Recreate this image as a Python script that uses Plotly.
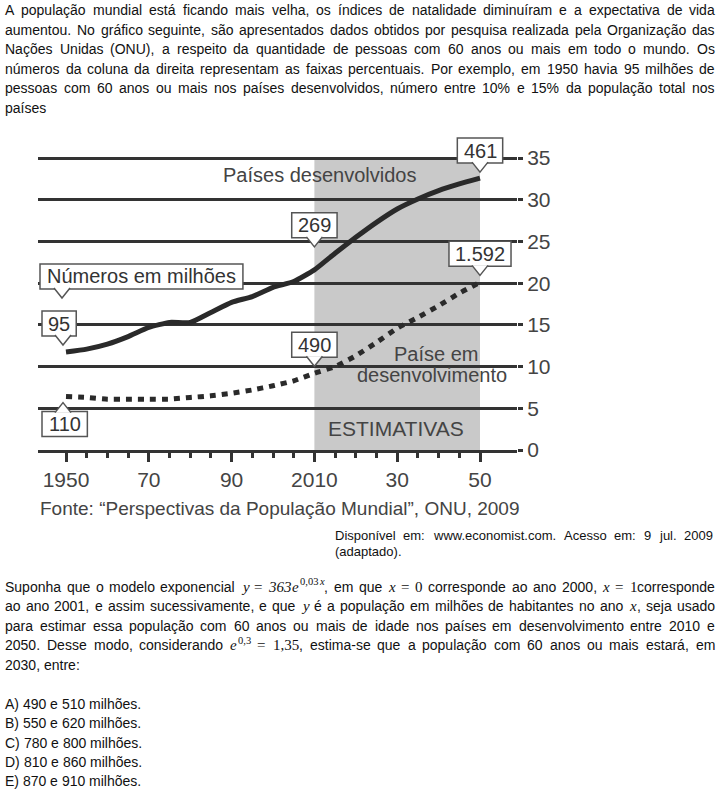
import unicodedata
import plotly.graph_objects as go

W, H = 720, 792

# ---------------- data ----------------
years = [1950, 1955, 1960, 1965, 1970, 1975, 1980, 1985, 1990, 1995, 2000,
         2005, 2010, 2015, 2020, 2025, 2030, 2035, 2040, 2045, 2050]
developed_pct = [11.75, 12.1, 12.7, 13.6, 14.7, 15.3, 15.3, 16.5, 17.7, 18.4, 19.5,
                 20.2, 21.6, 23.6, 25.5, 27.3, 28.9, 30.1, 31.1, 31.9, 32.6]
developing_pct = [6.4, 6.3, 6.1, 6.1, 6.1, 6.1, 6.3, 6.5, 6.8, 7.2, 7.7,
                  8.3, 9.2, 10.0, 11.3, 12.9, 14.6, 15.9, 17.3, 18.8, 20.1]
y_ticks = [0, 5, 10, 15, 20, 25, 30, 35]
x_tickvals = [1950, 1970, 1990, 2010, 2030, 2050]
x_ticktext = ["1950", "70", "90", "2010", "30", "50"]
estimate_start, estimate_end = 2010, 2050

callout_labels = ["95", "269", "461", "110", "490", "1.592"]
callout_years = [1950, 2010, 2050, 1950, 2010, 2050]
callout_series = ["dev", "dev", "dev", "und", "und", "und"]

# ---------------- geometry (pixels) ----------------
PX_1950, PX_PER_YEAR = 66.0, 4.14
PY_ZERO, PY_PER_UNIT = 450.0, 8.34
PLOT_LEFT, PLOT_RIGHT, PLOT_TOP = 38.0, 517.0, 150.0

x_range = [1950 - (PX_1950 - PLOT_LEFT) / PX_PER_YEAR, 1950 + (PLOT_RIGHT - PX_1950) / PX_PER_YEAR]
y_range = [0, (PY_ZERO - PLOT_TOP) / PY_PER_UNIT]


def px(year):
    return PX_1950 + (year - 1950) * PX_PER_YEAR


def py(v):
    return PY_ZERO - v * PY_PER_UNIT


def fx(p):
    return p / W


def fy(p):
    return 1 - p / H


# ---------------- font metrics ----------------
HELV = {' ': 278, '!': 278, '"': 355, '%': 889, '(': 333, ')': 333, ',': 278, '-': 333,
        '.': 278, '/': 278, ':': 278, ';': 278, '=': 584, '?': 556, '\u201c': 333, '\u201d': 333}
for d in '0123456789':
    HELV[d] = 556
for c, w in zip('ABCDEFGHIJKLMNOPQRSTUVWXYZ',
                [667, 667, 722, 722, 667, 611, 778, 722, 278, 500, 667, 556, 833, 722, 778, 667, 778, 722,
                 667, 611, 722, 667, 944, 667, 667, 611]):
    HELV[c] = w
for c, w in zip('abcdefghijklmnopqrstuvwxyz',
                [556, 556, 500, 556, 556, 278, 556, 556, 222, 222, 500, 222, 833, 556, 556, 556, 556, 333,
                 500, 278, 556, 500, 722, 500, 500, 500]):
    HELV[c] = w
TIMES = {' ': 250, ',': 250, '=': 620, 'x': 444, 'y': 444, 'e': 444}
for d in '0123456789':
    TIMES[d] = 500


def base(c):
    return unicodedata.normalize('NFD', c)[0]


def helv_w(s, size):
    return sum(HELV.get(base(c), 556) for c in s) * size / 1000.0


def times_w(s, size):
    return sum(TIMES.get(c, 500) for c in s) * size / 1000.0


SANS = "Liberation Sans, Arial, sans-serif"
SERIF = "Liberation Serif, Times New Roman, serif"
BODY = 14
MATH = 15
SUP = 10.5

annotations = []
shapes = []


def piece_w(p, size=BODY):
    kind = p[1]
    if kind == 'gap':
        return p[2]
    if kind == 'n':
        return helv_w(p[0], size)
    if kind == 'mi':
        return times_w(p[0], MATH) + 1.5
    if kind == 'mr':
        return times_w(p[0], MATH)
    if kind == 'si':
        return times_w(p[0], SUP) + 1.0
    return times_w(p[0], SUP)


def draw_piece(p, x, y, size=BODY, color='#111'):
    kind = p[1]
    if kind == 'gap':
        return
    txt = p[0]
    fam, sz, dy = SANS, size, 0
    if kind in ('mi', 'mr'):
        fam, sz = SERIF, MATH
    elif kind in ('si', 'sr'):
        fam, sz, dy = SERIF, SUP, -5
    if kind in ('mi', 'si'):
        txt = '<i>' + txt + '</i>'
    annotations.append(dict(x=fx(x), y=fy(y + dy), xref='paper', yref='paper', text=txt,
                            showarrow=False, xanchor='left', yanchor='middle', borderpad=0,
                            borderwidth=0, font=dict(family=fam, size=sz, color=color)))


def tokens_from(s):
    return [[(w, 'n')] for w in s.split(' ')]


def justify(tokens, x0, x1, y, size=BODY, color='#111', justified=True):
    widths = [sum(piece_w(p, size) for p in t) for t in tokens]
    if justified and len(tokens) > 1:
        gap = (x1 - x0 - sum(widths)) / (len(tokens) - 1)
    else:
        gap = helv_w(' ', size)
    x = x0
    for t, tw in zip(tokens, widths):
        cx = x
        for p in t:
            draw_piece(p, cx, y, size, color)
            cx += piece_w(p, size)
        x += tw + gap


def G(w):
    return ('', 'gap', w)


# ---------------- top paragraph ----------------
top_lines = [
    "A população mundial está ficando mais velha, os índices de natalidade diminuíram e a expectativa de vida",
    "aumentou. No gráfico seguinte, são apresentados dados obtidos por pesquisa realizada pela Organização das",
    "Nações Unidas (ONU), a respeito da quantidade de pessoas com 60 anos ou mais em todo o mundo. Os",
    "números da coluna da direita representam as faixas percentuais. Por exemplo, em 1950 havia 95 milhões de",
    "pessoas com 60 anos ou mais nos países desenvolvidos, número entre 10% e 15% da população total nos",
    "países",
]
TX0, TX1 = 5, 715
for i, line in enumerate(top_lines):
    justify(tokens_from(line), TX0, TX1, 10 + 19.6 * i, justified=(i < len(top_lines) - 1))

# ---------------- source ----------------
justify(tokens_from("Disponível em: www.economist.com. Acesso em: 9 jul. 2009"), 335, 713, 535, size=13)
justify(tokens_from("(adaptado)."), 335, 713, 551, size=13, justified=False)

# ---------------- bottom paragraph ----------------
b1 = tokens_from("Suponha que o modelo exponencial") + [
    [('y', 'mi'), G(5), ('=', 'mr'), G(5), ('363', 'mi'), ('e', 'mi'), ('0,03', 'sr'), ('x', 'si'), (',', 'n')],
    [('em', 'n')], [('que', 'n')],
    [('x', 'mi'), G(5), ('=', 'mr'), G(5), ('0', 'mr')],
] + tokens_from("corresponde ao ano 2000,") + [
    [('x', 'mi'), G(5), ('=', 'mr'), G(5), ('1', 'mr'), ('corresponde', 'n')]]
b2 = tokens_from("ao ano 2001, e assim sucessivamente, e que") + [[('y', 'mi')]] + \
    tokens_from("é a população em milhões de habitantes no ano") + [[('x', 'mi'), (',', 'n')]] + \
    tokens_from("seja usado")
b3 = tokens_from("para estimar essa população com 60 anos ou mais de idade nos países em desenvolvimento entre 2010 e")
b4 = tokens_from("2050. Desse modo, considerando") + [
    [('e', 'mi'), ('0,3', 'sr'), G(5), ('=', 'mr')], [('1,35', 'mr'), (',', 'n')]] + \
    tokens_from("estima-se que a população com 60 anos ou mais estará, em")
b5 = tokens_from("2030, entre:")
for i, toks in enumerate([b1, b2, b3, b4, b5]):
    justify(toks, TX0, TX1, 586.5 + 19.5 * i, justified=(i < 4))

options = ["A) 490 e 510 milhões.", "B) 550 e 620 milhões.", "C) 780 e 800 milhões.",
           "D) 810 e 860 milhões.", "E) 870 e 910 milhões."]
for i, o in enumerate(options):
    justify(tokens_from(o), TX0, TX1, 704 + 19.3 * i, justified=False)

# ---------------- chart ----------------
fig = go.Figure()
fig.add_trace(go.Scatter(x=years, y=developed_pct, mode='lines', hoverinfo='skip',
                         line=dict(color='#2a2a2a', width=5, shape='spline', smoothing=0.5)))
fig.add_trace(go.Scatter(x=years, y=developing_pct, mode='lines', hoverinfo='skip',
                         line=dict(color='#2a2a2a', width=5, dash='6px,6px', shape='spline', smoothing=0.5)))

# estimates shading
shapes.append(dict(type='rect', xref='x', yref='y', x0=estimate_start, x1=estimate_end,
                   y0=0, y1=max(y_ticks), fillcolor='#c9c9c9', line=dict(width=0), layer='below'))

CHART_TXT = '#444'
BOX_LINE = '#555'


def callout_box(text, tip_x, tip_y, left=None, down=True, size=20, pad=6):
    tw = helv_w(text, size)
    bw = tw + 2 * pad
    bh = 25
    bx0 = tip_x - bw / 2 if left is None else left
    if down:
        by1 = tip_y - 9
        by0 = by1 - bh
        edge = by1 - 1
    else:
        by0 = tip_y + 9
        by1 = by0 + bh
        edge = by0 + 1
    shapes.append(dict(type='rect', xref='paper', yref='paper', x0=fx(bx0), x1=fx(bx0 + bw),
                       y0=fy(by1), y1=fy(by0), fillcolor='white',
                       line=dict(color=BOX_LINE, width=1.5), layer='above'))
    path = 'M %.5f,%.5f L %.5f,%.5f L %.5f,%.5f' % (fx(tip_x - 8), fy(edge), fx(tip_x), fy(tip_y),
                                                    fx(tip_x + 8), fy(edge))
    shapes.append(dict(type='path', xref='paper', yref='paper', path=path, fillcolor='white',
                       line=dict(color=BOX_LINE, width=1.5), layer='above'))
    annotations.append(dict(x=fx(bx0 + bw / 2), y=fy((by0 + by1) / 2), xref='paper', yref='paper',
                            text=text, showarrow=False, xanchor='center', yanchor='middle',
                            font=dict(family=SANS, size=size, color='#333')))


series_vals = {"dev": dict(zip(years, developed_pct)), "und": dict(zip(years, developing_pct))}
callout_gap = [7, 23, 6, 6, 7, 7]
callout_down = [True, True, True, False, True, True]
for lab, yr, s, g, dn in zip(callout_labels, callout_years, callout_series, callout_gap, callout_down):
    v = series_vals[s][yr]
    tx = px(yr) - (3 if yr == 1950 else 0)
    ty = py(v) - g if dn else py(v) + g
    left = (tx - 21) if yr == 1950 else None
    callout_box(lab, tx, ty, left=left, down=dn)

# "Números em milhões" note
callout_box("Números em milhões", px(1950) - 4, 298, left=40, down=True, pad=7)


def chart_text(t, x, y, size=21, anchor='center'):
    annotations.append(dict(x=fx(x), y=fy(y), xref='paper', yref='paper', text=t, showarrow=False,
                            xanchor=anchor, yanchor='middle',
                            font=dict(family=SANS, size=size, color=CHART_TXT)))


chart_text("Países desenvolvidos", 319, 175, size=20)
chart_text("Paíse em", 436, 354, size=20)
chart_text("desenvolvimento", 432, 375, size=20)
chart_text("ESTIMATIVAS", 396, 429)
chart_text("Fonte: \u201cPerspectivas da População Mundial\u201d, ONU, 2009", 38, 508, size=19, anchor='left')

minor_vals = [y for y in range(1955, 2050, 5) if y not in x_tickvals]

fig.update_layout(
    width=W, height=H, margin=dict(l=0, r=0, t=0, b=0),
    paper_bgcolor='white', plot_bgcolor='white', showlegend=False,
    xaxis=dict(domain=[PLOT_LEFT / W, PLOT_RIGHT / W], range=x_range, autorange=False,
               tickmode='array', tickvals=x_tickvals, ticktext=x_ticktext,
               ticks='outside', ticklen=9, tickwidth=3, tickcolor='#333',
               minor=dict(tickmode='array', tickvals=minor_vals, ticks='outside', ticklen=5,
                          tickwidth=3, tickcolor='#333', showgrid=False),
               showline=True, linewidth=3, linecolor='#333', showgrid=False, zeroline=False,
               tickfont=dict(family=SANS, size=21, color=CHART_TXT), automargin=False, fixedrange=True),
    yaxis=dict(domain=[1 - PY_ZERO / H, 1 - PLOT_TOP / H], range=y_range, autorange=False,
               side='right', tickmode='array', tickvals=y_ticks,
               ticks='outside', ticklen=5, tickwidth=3, tickcolor='#333',
               showgrid=True, gridcolor='#333', gridwidth=3, zeroline=False, showline=False,
               tickfont=dict(family=SANS, size=21, color=CHART_TXT), automargin=False, fixedrange=True),
    shapes=shapes, annotations=annotations,
)

fig.write_html("out.html")
